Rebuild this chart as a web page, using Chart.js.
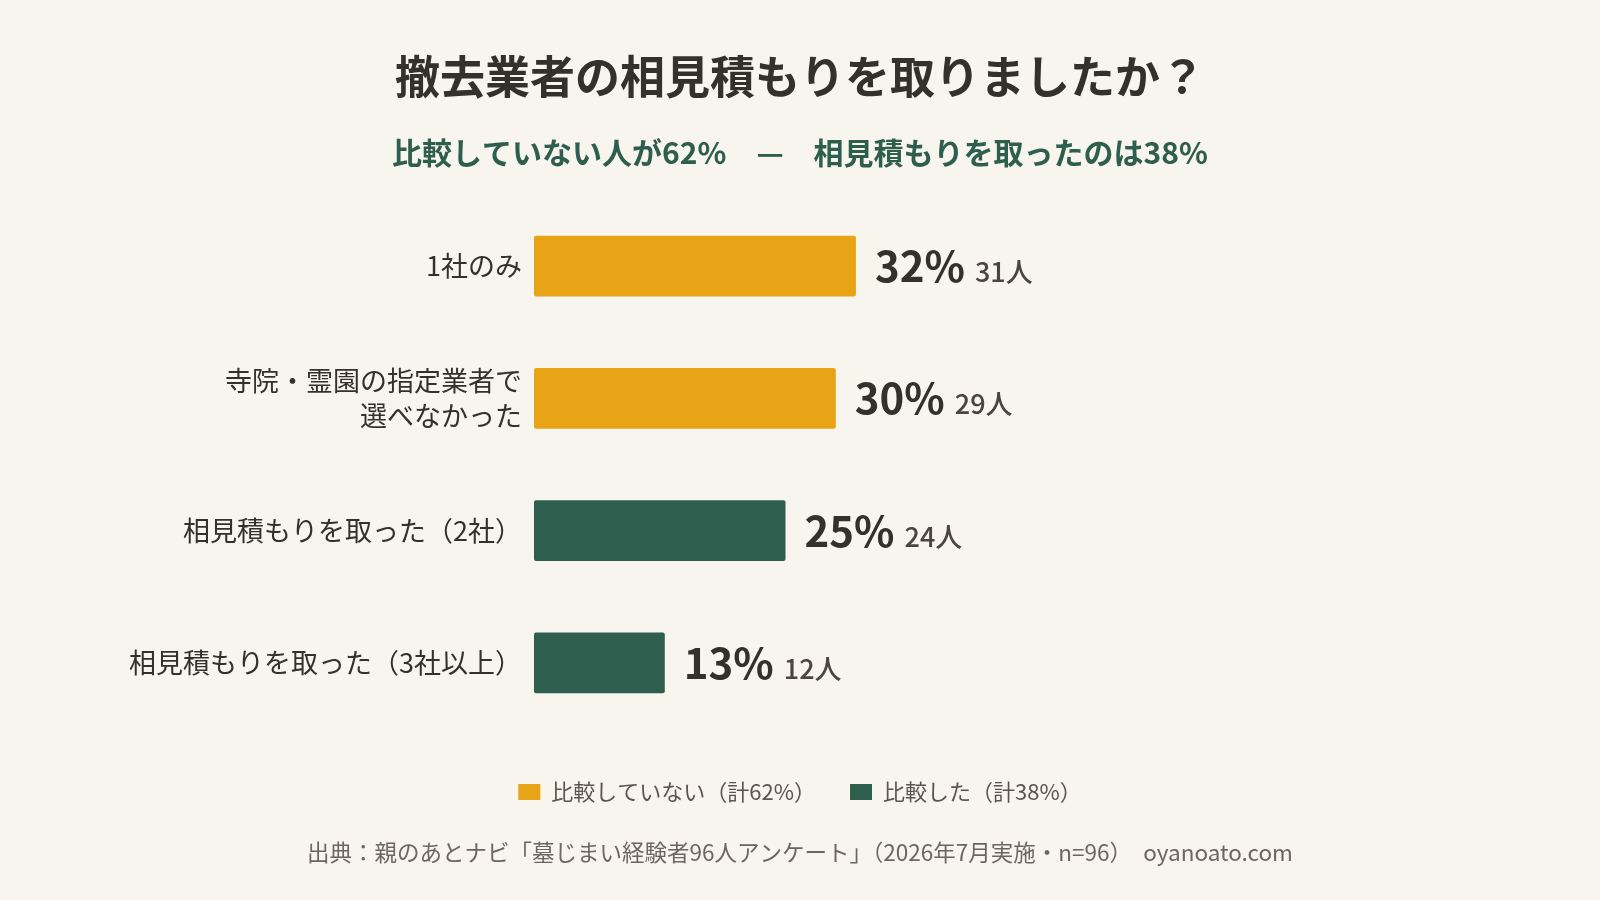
<!DOCTYPE html>
<html lang="ja">
<head>
<meta charset="utf-8">
<title>撤去業者の相見積もり</title>
<script src="https://cdn.jsdelivr.net/npm/chart.js@4.4.1/dist/chart.umd.min.js"></script>
<style>
  html, body { margin: 0; padding: 0; background: #f8f5ee; }
  #wrap { width: 1600px; height: 900px; }
</style>
</head>
<body>
<div id="wrap"><canvas id="chart"></canvas></div>
<script>
const categories = [
  "1社のみ",
  ["寺院・霊園の指定業者で", "選べなかった"],
  "相見積もりを取った（2社）",
  "相見積もりを取った（3社以上）"
];
const notCompared = [32, 30, null, null];
const compared = [null, null, 25, 13];
const people = [31, 29, 24, 12];
const seriesNames = ["比較していない（計62%）", "比較した（計38%）"];

const FONT = "'Noto Sans CJK JP', 'Noto Sans', sans-serif";
const DARK = "#34302a";

// 数値ラベル（% と 人数）
const valueLabels = {
  id: "valueLabels",
  afterDatasetsDraw(chart) {
    const ctx = chart.ctx;
    ctx.save();
    ctx.textBaseline = "alphabetic";
    ctx.textAlign = "left";
    chart.data.datasets.forEach((ds, di) => {
      chart.getDatasetMeta(di).data.forEach((bar, i) => {
        const v = ds.data[i];
        if (v === null) return;
        const pct = v + "%";
        const x = bar.x + 19;
        const y = bar.y + 16;
        ctx.fillStyle = DARK;
        ctx.font = "bold 42px " + FONT;
        ctx.fillText(pct, x, y);
        const w = ctx.measureText(pct).width;
        ctx.fillStyle = "#4a453e";
        ctx.font = "500 27px " + FONT;
        ctx.fillText(people[i] + "人", x + w + 10, y);
      });
    });
    ctx.restore();
  }
};

// 出典
const footer = {
  id: "footer",
  afterDraw(chart) {
    const ctx = chart.ctx;
    ctx.save();
    ctx.fillStyle = "#6b665e";
    ctx.font = "22.5px " + FONT;
    ctx.textAlign = "center";
    ctx.textBaseline = "middle";
    ctx.fillText("出典：親のあとナビ「墓じまい経験者96人アンケート」（2026年7月実施・n=96）　oyanoato.com", 800, 852);
    ctx.restore();
  }
};

new Chart(document.getElementById("chart"), {
  type: "bar",
  data: {
    labels: categories,
    datasets: [
      {
        label: seriesNames[0],
        data: notCompared,
        backgroundColor: "#e8a317",
        grouped: false,
        borderRadius: 2,
        borderSkipped: false
      },
      {
        label: seriesNames[1],
        data: compared,
        backgroundColor: "#2e5e4d",
        grouped: false,
        borderRadius: 2,
        borderSkipped: false
      }
    ]
  },
  options: {
    indexAxis: "y",
    responsive: true,
    maintainAspectRatio: false,
    animation: false,
    categoryPercentage: 1,
    barPercentage: 0.46,
    layout: { padding: { left: 60, right: 60, top: 0, bottom: 87 } },
    scales: {
      x: {
        min: 0,
        max: 100,
        grid: { display: false },
        border: { display: false },
        ticks: { display: false },
        afterFit(scale) { scale.height = 18; }
      },
      y: {
        grid: { display: false, drawTicks: false },
        border: { display: false },
        ticks: {
          color: DARK,
          padding: 12,
          font: { family: FONT, size: 27, lineHeight: 1.3 }
        },
        afterFit(scale) { scale.width = 474; }
      }
    },
    plugins: {
      title: {
        display: true,
        text: "撤去業者の相見積もりを取りましたか？",
        color: DARK,
        font: { family: FONT, size: 45, weight: "bold", lineHeight: 1.2 },
        padding: { top: 50, bottom: 0 }
      },
      subtitle: {
        display: true,
        text: "比較していない人が62%　—　相見積もりを取ったのは38%",
        color: "#2e5e4d",
        font: { family: FONT, size: 30, weight: "bold", lineHeight: 1.2 },
        padding: { top: 31, bottom: 29 }
      },
      legend: {
        position: "bottom",
        labels: {
          color: "#5a554d",
          boxWidth: 22,
          boxHeight: 16,
          padding: 34,
          font: { family: FONT, size: 22 }
        }
      },
      tooltip: { enabled: false }
    }
  },
  plugins: [valueLabels, footer]
});
</script>
</body>
</html>
